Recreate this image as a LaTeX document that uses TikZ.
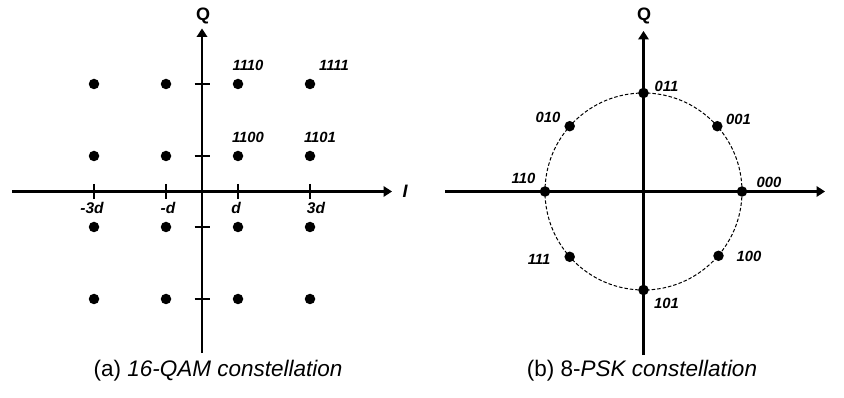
\documentclass[tikz,border=0pt]{standalone}
\usepackage{fontspec}
\setmainfont{Liberation Sans}
\usetikzlibrary{arrows.meta}
\tikzset{
  axis/.style={line width=2.5pt, -{Triangle[length=8.5pt,width=10.5pt]}},
  tickline/.style={line width=1.6pt},
  dot/.style={circle, fill=black, inner sep=0pt, minimum size=10.5pt},
  lbl/.style={inner sep=0pt, font=\fontsize{14.8}{15}\selectfont\bfseries\itshape},
  ticklbl/.style={inner sep=0pt, font=\fontsize{15.5}{16}\selectfont\bfseries\itshape},
  axlbl/.style={inner sep=0pt, font=\fontsize{18}{19}\selectfont\bfseries},
  captxt/.style={inner sep=0pt, font=\fontsize{22.5}{24}\selectfont},
  ring/.style={line width=1pt, dash pattern=on 3.5pt off 2pt}
}
\begin{document}
\begin{tikzpicture}[x=1pt,y=-1pt]
\useasboundingbox (0,0) rectangle (844,398);
% ---------------- (a) 16-QAM ----------------
\coordinate (aL) at (12,191.5);
\coordinate (aR) at (392,191.5);
\coordinate (aB) at (202,353);
\coordinate (aT) at (202,28.5);
\draw[axis] (aL) -- (aR);
\draw[axis] (aB) -- (aT);
\node[axlbl] (aQ) at (203,16) {Q};
\node[axlbl,font=\fontsize{18}{19}\selectfont\bfseries\itshape] (aI) at (405,191.5) {I};
% ticks on I axis
\foreach \x in {94,166,238,310} \draw[tickline] (\x,184) -- (\x,199);
% ticks on Q axis
\foreach \y in {84,156,227,299} \draw[tickline] (194.5,\y) -- (209.5,\y);
% dots
\foreach \x/\i in {94/1,166/2,238/3,310/4}
  \foreach \y/\j in {84/1,156/2,227/3,299/4}
    \node[dot] (d\i\j) at (\x,\y) {};
% labels
\node[lbl] (l1110) at (248,65) {1110};
\node[lbl] (l1111) at (334,65) {1111};
\node[lbl] (l1100) at (248,137) {1100};
\node[lbl] (l1101) at (320,137) {1101};
\node[ticklbl] (tm3) at (92,207.5) {-3d};
\node[ticklbl] (tm1) at (168,207.5) {-d};
\node[ticklbl] (tp1) at (236,207.5) {d};
\node[ticklbl] (tp3) at (316,207.5) {3d};
\node[captxt] (capa) at (218,370.5) {(a) \textit{16-QAM constellation}};
% ---------------- (b) 8-PSK ----------------
\coordinate (c) at (643.5,191.5);
\draw[ring] (c) circle[radius=98.5];
\coordinate (bL) at (445,191.5);
\coordinate (bR) at (825,191.5);
\coordinate (bB) at (643.5,355);
\coordinate (bT) at (643.5,31);
\draw[axis] (bL) -- (bR);
\draw[axis] (bB) -- (bT);
\node[axlbl] (bQ) at (644,16) {Q};
\node[dot] (p000) at (742,191.5) {};
\node[dot] (p001) at (717.3,126.2) {};
\node[dot] (p011) at (643.5,93) {};
\node[dot] (p010) at (569.7,126.2) {};
\node[dot] (p110) at (545,191.5) {};
\node[dot] (p111) at (569.7,256.8) {};
\node[dot] (p101) at (643.5,290) {};
\node[dot] (p100) at (718.5,255.8) {};
\node[lbl] (b011) at (666.5,86) {011};
\node[lbl] (b001) at (738.5,119.5) {001};
\node[lbl] (b010) at (548,117) {010};
\node[lbl] (b110) at (523.5,178.5) {110};
\node[lbl] (b000) at (769,182.5) {000};
\node[lbl] (b111) at (539,259.5) {111};
\node[lbl] (b100) at (749,256) {100};
\node[lbl] (b101) at (666.5,303.5) {101};
\node[captxt] (capb) at (642,371) {(b) 8-\textit{PSK constellation}};
\end{tikzpicture}
\end{document}
